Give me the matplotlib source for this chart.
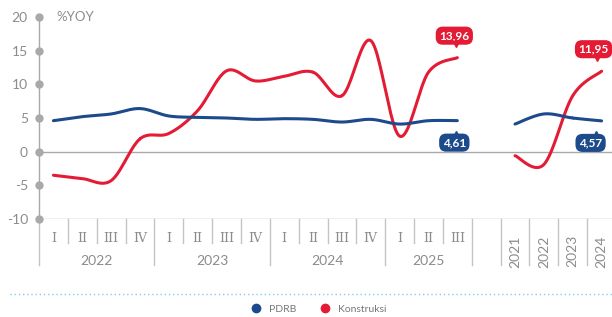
import numpy as np
import matplotlib.pyplot as plt
from matplotlib.lines import Line2D

# quarterly data 2022 Q1 .. 2025 Q3
quarters = ['I', 'II', 'III', 'IV'] * 3 + ['I', 'II', 'III']
quarter_years = ['2022', '2023', '2024', '2025']
pdrb_q = [4.6, 5.2, 5.6, 6.4, 5.3, 5.1, 5.0, 4.8, 4.9, 4.8, 4.4, 4.8, 4.1, 4.6, 4.61]
kons_q = [-3.5, -4.0, -4.3, 1.9, 2.7, 6.1, 12.0, 10.5, 11.2, 11.8, 8.3, 16.5, 2.3, 11.8, 13.96]

# annual data
years = ['2021', '2022', '2023', '2024']
pdrb_y = [4.1, 5.6, 5.0, 4.57]
kons_y = [-0.6, -1.9, 8.3, 11.95]

blue = '#1d4a8b'
red = '#e41b35'
grey = '#a9a9a9'
txt = '#8c8c8c'


def smooth(x, y, n=24):
    # catmull-rom curve through the points, only for drawing
    x = np.asarray(x, float)
    y = np.asarray(y, float)
    px = np.concatenate([[x[0]], x, [x[-1]]])
    py = np.concatenate([[y[0]], y, [y[-1]]])
    xs, ys = [], []
    t = np.linspace(0, 1, n)
    for i in range(1, len(px) - 2):
        for arr, out in ((px, xs), (py, ys)):
            p0, p1, p2, p3 = arr[i - 1], arr[i], arr[i + 1], arr[i + 2]
            out.extend(0.5 * (2 * p1 + (-p0 + p2) * t
                              + (2 * p0 - 5 * p1 + 4 * p2 - p3) * t ** 2
                              + (-p0 + 3 * p1 - 3 * p2 + p3) * t ** 3))
    return xs, ys


fig = plt.figure(figsize=(6.12, 3.17), dpi=100)
ax = fig.add_axes([39 / 612, 98 / 317, 577 / 612, 202 / 317])
ax.set_xlim(0, 20)
ax.set_ylim(-10, 20)
for s in ax.spines.values():
    s.set_visible(False)

xq = np.arange(len(pdrb_q)) + 0.5
xy = np.arange(len(years)) + 16.5

ax.axhline(0, color=grey, lw=1, zorder=1)
ax.axhline(-10, color=grey, lw=1, zorder=1)
ax.plot([0, 0], [-10, 20], color=grey, lw=1, clip_on=False, zorder=2)
yt = np.arange(-10, 21, 5)
ax.plot(np.zeros(len(yt)), yt, 'o', color=grey, ms=5, clip_on=False, zorder=3)
ax.set_yticks(yt)
ax.set_yticklabels([str(v) for v in yt], fontsize=10, color=txt, family='Lato')
ax.tick_params(axis='y', length=0, pad=8)
ax.set_xticks([])
ax.text(0.6, 20, '%YOY', fontsize=9.5, color=txt, family='Lato', va='center')

for xs_, ys_, c in ((xq, kons_q, red), (xq, pdrb_q, blue),
                    (xy, kons_y, red), (xy, pdrb_y, blue)):
    sx, sy = smooth(xs_, ys_)
    ax.plot(sx, sy, color=c, lw=2.2, solid_capstyle='round', zorder=4)

# category axis below
for i, q in enumerate(quarters):
    ax.text(i + 0.5, -12.9, q, ha='center', va='center', fontsize=9,
            color=txt, family='DejaVu Serif', clip_on=False)
for i in range(1, 16):
    bottom = -16.9 if i % 4 == 0 or i == 15 else -13.6
    ax.plot([i, i], [-10, bottom], color='#c4c4c4', lw=1, clip_on=False)
ax.plot([0, 0], [-10, -16.9], color='#c4c4c4', lw=1, clip_on=False)
for i in range(16, 20):
    ax.plot([i, i], [-10, -16.9], color='#c4c4c4', lw=1, clip_on=False)
for k, yr in enumerate(quarter_years):
    xc = 2 + 4 * k if k < 3 else 12 + 1.5
    ax.text(xc, -16.2, yr, ha='center', va='center', fontsize=10, color=txt,
            family='Lato', clip_on=False)
for x, yr in zip(xy, years):
    ax.text(x, -14.8, yr, ha='center', va='center', rotation=90, fontsize=10,
            color=txt, family='Lato', clip_on=False)


def tag(x, y, label, c, up, dx=0):
    off = 22 * 0.72 if up else -22 * 0.72
    ax.annotate(label, (x, y), xytext=(dx * 0.72, off), textcoords='offset points',
                ha='center', va='center', fontsize=8.5, color='white',
                family='Lato', fontweight='bold', zorder=6,
                bbox=dict(boxstyle='round,pad=0.3,rounding_size=0.6', fc=c, ec='none'))
    mk = 'v' if up else '^'
    ax.plot([x + dx / 28.85 * 0.55], [y + (2.0 if up else -2.0)], mk, color=c, ms=5, zorder=6)


tag(xq[-1], kons_q[-1], '13,96', red, True, dx=-3)
tag(xq[-1], pdrb_q[-1], '4,61', blue, False, dx=-3)
tag(xy[-1], kons_y[-1], '11,95', red, True, dx=-8)
tag(xy[-1], pdrb_y[-1], '4,57', blue, False, dx=-11)

fig.add_artist(Line2D([10 / 612, 1], [1 - 294 / 317] * 2, color='#7fcfe8',
                      lw=1, ls=(0, (1, 2))))
handles = [Line2D([], [], ls='none', marker='o', color=blue, ms=6, label='PDRB'),
           Line2D([], [], ls='none', marker='o', color=red, ms=6, label='Konstruksi')]
leg = fig.legend(handles=handles, loc='center', bbox_to_anchor=(316 / 612, 1 - 309 / 317),
                 ncol=2, frameon=False, fontsize=7.5, handletextpad=0.2, columnspacing=1.8)
for t in leg.get_texts():
    t.set_color('#777777')
    t.set_family('Lato')

fig.savefig('out.png', dpi=100)
